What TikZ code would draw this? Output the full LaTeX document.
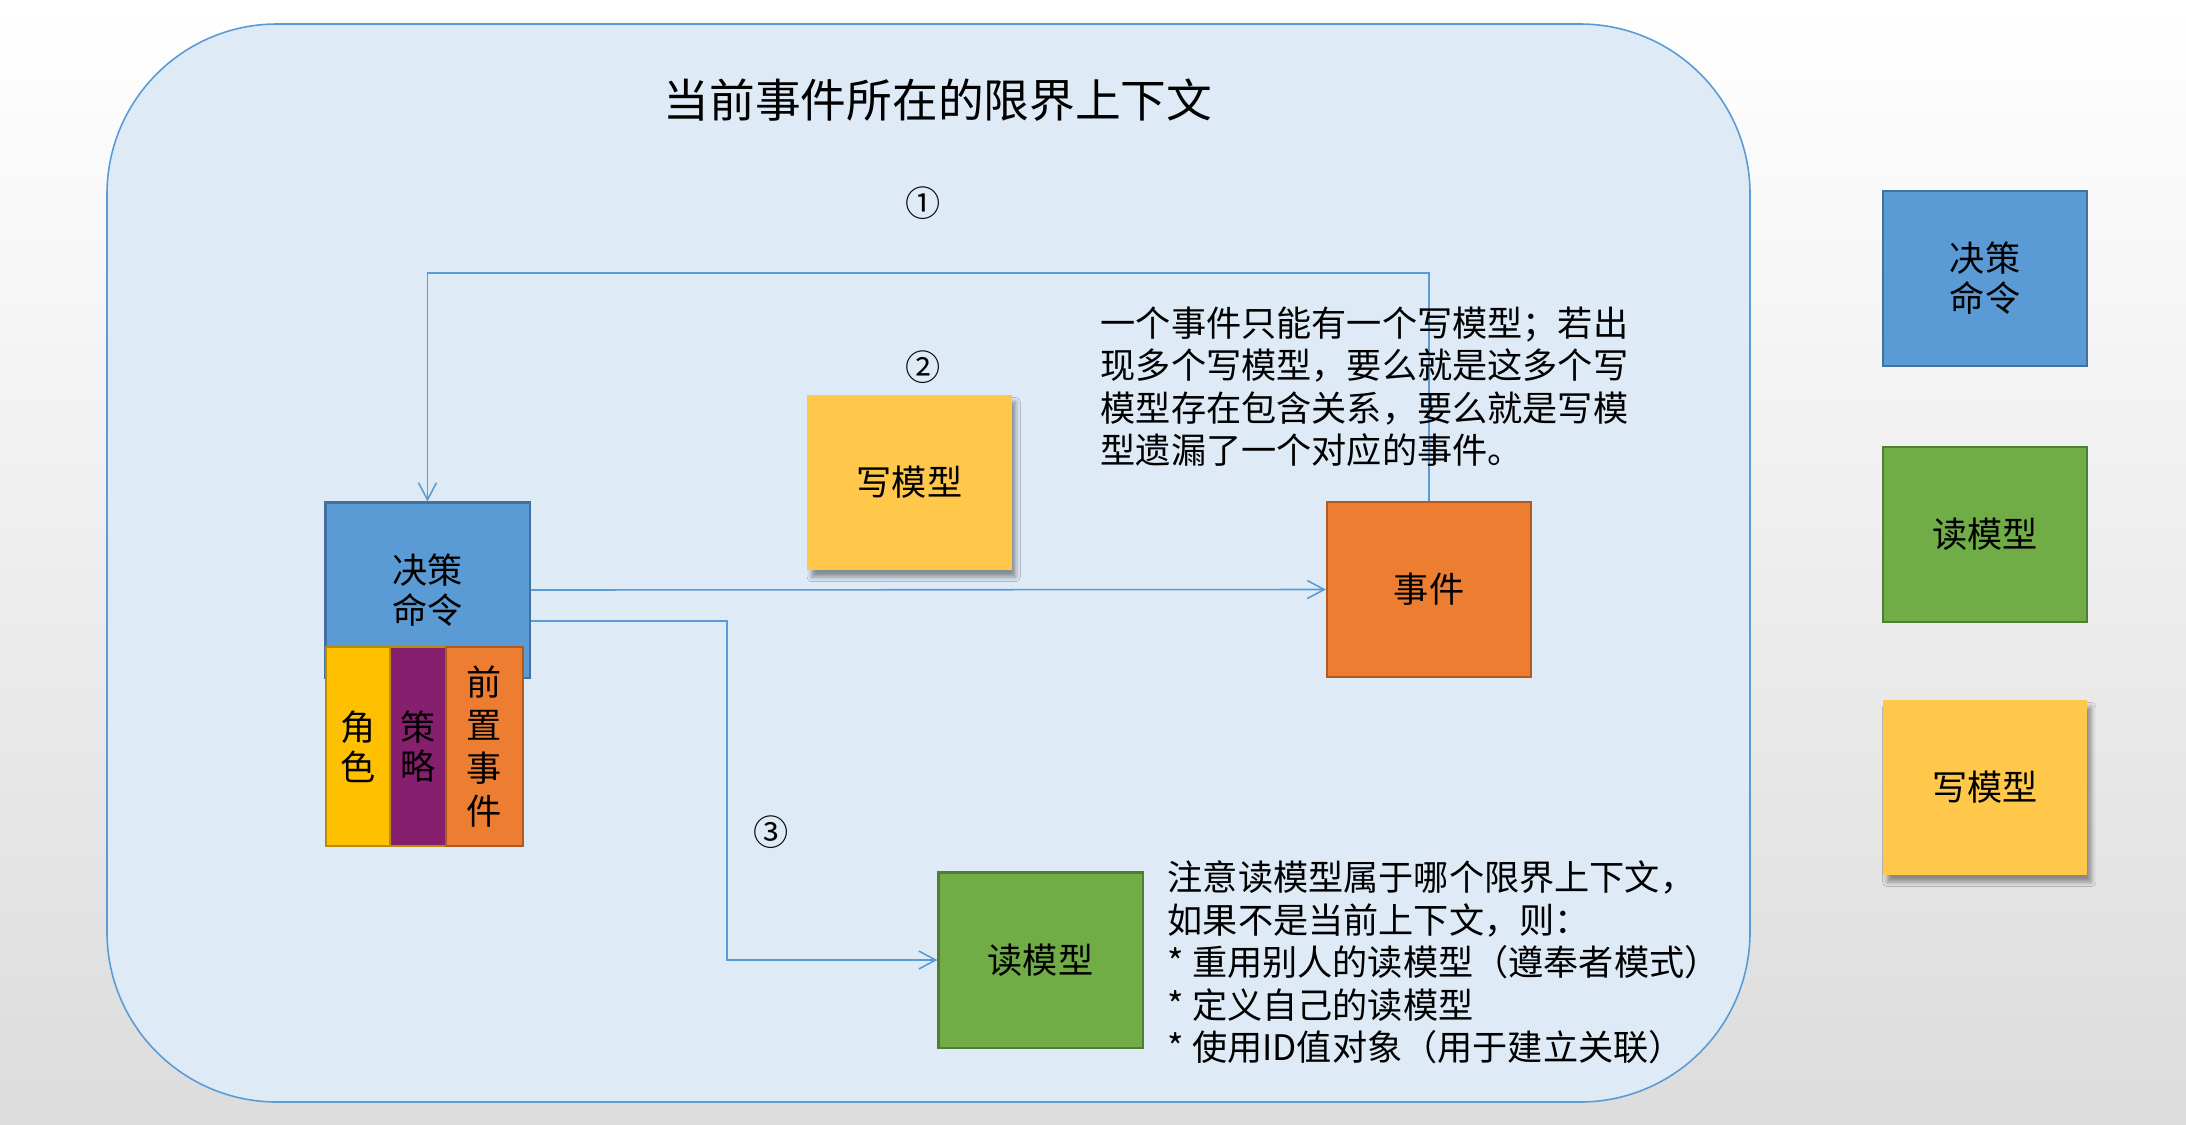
\documentclass[tikz,border=0pt]{standalone}
\usepackage{fontspec}
\setmainfont{Noto Sans CJK SC}
\usetikzlibrary{arrows.meta,shadows.blur}
\definecolor{bgfill}{HTML}{DEEBF7}
\definecolor{bline}{HTML}{5B9BD5}
\definecolor{cmdfill}{HTML}{5B9BD5}
\definecolor{cmdline}{HTML}{41719C}
\definecolor{evfill}{HTML}{ED7D31}
\definecolor{evline}{HTML}{AE5A21}
\definecolor{rdfill}{HTML}{70AD47}
\definecolor{rdline}{HTML}{507E32}
\definecolor{wrfill}{HTML}{FFC84A}
\definecolor{rolefill}{HTML}{FFC000}
\definecolor{roleline}{HTML}{BC8C00}
\definecolor{polfill}{HTML}{861F6D}
\definecolor{grayend}{HTML}{DCDCDC}
\newcommand\bxfont{\fontsize{10pt}{11.3pt}\selectfont}
\newcommand\ntfont{\fontsize{10pt}{12.1pt}\selectfont}
\begin{document}
\begin{tikzpicture}[x=0.01cm,y=-0.01cm,
  box/.style={minimum width=2.04cm, minimum height=1.75cm, inner sep=0pt,
    line width=0.6pt, align=center, font=\bxfont},
  cmdbox/.style={box, fill=cmdfill, draw=cmdline},
  evbox/.style={box, fill=evfill, draw=evline},
  rdbox/.style={box, fill=rdfill, draw=rdline},
  wrbox/.style={box, fill=wrfill, blur shadow={shadow xshift=1.2pt, shadow yshift=-2pt, shadow blur radius=1.3pt, shadow opacity=40}},
  subbox/.style={minimum height=1.99cm, inner sep=0pt, line width=0.6pt, align=center},
  arr/.style={draw=bline, line width=0.45pt, -{Straight Barb[length=4.8pt,width=5.1pt]}},
  note/.style={align=left, inner sep=0pt, font=\ntfont, anchor=north west},
  numlbl/.style={inner sep=0pt, font=\fontsize{10pt}{12pt}\selectfont},
]
\useasboundingbox (0,0) rectangle (2186,1124);
\shade[top color=white, bottom color=grayend] (0,0) rectangle (2186,1124);
% bounded context
\draw[fill=bgfill, draw=bline, line width=0.45pt, rounded corners=1.7cm] (107,24) rectangle (1750,1102);
\node[inner sep=0pt, font=\fontsize{13pt}{15pt}\selectfont] (ttl) at (938,100) {当前事件所在的限界上下文};
% main boxes
\node[cmdbox] (cmd) at (427.5,590) {决策\\命令};
\node[subbox, minimum width=0.64cm, fill=rolefill, draw=roleline, font=\bxfont] (role) at (358,746.5) {角\\色};
\node[subbox, minimum width=0.56cm, fill=polfill, draw=roleline, font=\bxfont] (pol) at (418,746.5) {策\\略};
\node[subbox, minimum width=0.77cm, fill=evfill, draw=evline, font=\fontsize{10pt}{12.2pt}\selectfont] (pre) at (484.5,746.5) {前\\置\\事\\件};
\node[wrbox] (wr) at (909.5,482.5) {写模型};
\node[evbox] (ev) at (1429,589.5) {事件};
\node[rdbox] (rd) at (1040.5,960) {读模型};
% legend
\node[cmdbox] (lcmd) at (1985,278.5) {决策\\命令};
\node[rdbox] (lrd) at (1985,534.5) {读模型};
\node[wrbox] (lwr) at (1985,787.5) {写模型};
% numbers
\node[numlbl] (n1) at (923,203) {①};
\node[numlbl] (n2) at (923,367) {②};
\node[numlbl] (n3) at (771,832) {③};
% connectors
\coordinate (c1) at (1426,273);
\coordinate (c3) at (727,621);
\draw[arr] (ev.north) -- (ev.north |- c1) -| (cmd.north);
\draw[arr] (cmd.east) -- (ev.west);
\draw[arr] (cmd.east |- c3) -- (c3) |- (rd.west);
% notes
\node[note] (evnote) at (1100,306) {一个事件只能有一个写模型；若出\\现多个写模型，要么就是这多个写\\模型存在包含关系，要么就是写模\\型遗漏了一个对应的事件。};
\node[note] (rdnote) at (1167,860) {注意读模型属于哪个限界上下文，\\如果不是当前上下文，则：\\* 重用别人的读模型（遵奉者模式）\\* 定义自己的读模型\\* 使用ID值对象（用于建立关联）};
\end{tikzpicture}
\end{document}
